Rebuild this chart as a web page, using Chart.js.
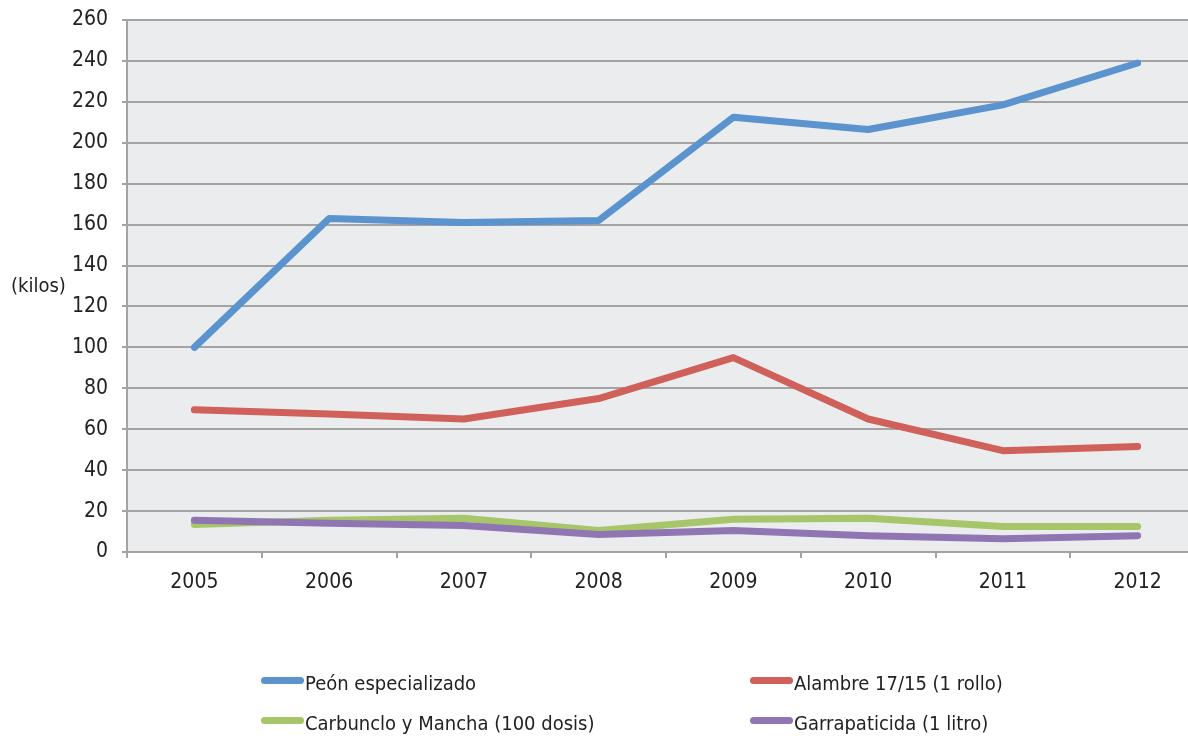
<!DOCTYPE html>
<html>
<head>
<meta charset="utf-8">
<script src="https://cdn.jsdelivr.net/npm/chart.js@4.4.1/dist/chart.umd.min.js"></script>
<style>
  html, body { margin: 0; padding: 0; background: #fff; overflow: hidden; width: 1188px; height: 739px; }
  #wrap { position: absolute; left: 0; top: 0; width: 1210px; height: 739px; }
  .txt { position: absolute; font-family: "Liberation Sans Narrow", "DejaVu Sans Condensed", sans-serif; font-size: 20px; color: #222; white-space: nowrap; }
  .key { position: absolute; height: 7px; width: 43px; border-radius: 4px; }
</style>
</head>
<body>
<div id="wrap">
  <canvas id="chart" width="1210" height="739"></canvas>
</div>
<div class="txt" style="left:11px; top:273px;">(kilos)</div>
<div id="legend"></div>

<script>
  // ── Data ──────────────────────────────────────────────────────────
  const years = ['2005', '2006', '2007', '2008', '2009', '2010', '2011', '2012'];
  const peon = [100, 163, 161, 162, 212.5, 206.5, 218.5, 239];
  const alambre = [69.5, 67.5, 65, 75, 95, 65, 49.5, 51.5];
  const carbunclo = [13.5, 15.5, 16.5, 10.5, 16, 16.5, 12.5, 12.5];
  const garrapaticida = [15.5, 14, 13, 8.5, 10.5, 8, 6.5, 8];

  const COLORS = {
    blue: '#5A93CD',
    red: '#D0605A',
    green: '#A7C66A',
    purple: '#8F76B2',
    grid: '#a3a3a3',
    plotBg: '#EBECEE',
    text: '#222222',
  };
  const FONT = '"Liberation Sans Narrow", "DejaVu Sans Condensed", sans-serif';

  const series = [
    { label: 'Peón especializado', data: peon, color: COLORS.blue, order: 3, x: 261, y: 680 },
    { label: 'Alambre 17/15 (1 rollo)', data: alambre, color: COLORS.red, order: 2, x: 750, y: 680 },
    { label: 'Carbunclo y Mancha (100 dosis)', data: carbunclo, color: COLORS.green, order: 1, x: 261, y: 720 },
    { label: 'Garrapaticida (1 litro)', data: garrapaticida, color: COLORS.purple, order: 0, x: 750, y: 720 },
  ];

  // plot background
  const plotBg = {
    id: 'plotBg',
    beforeDraw(chart) {
      const { ctx, chartArea: a } = chart;
      ctx.save();
      ctx.fillStyle = COLORS.plotBg;
      ctx.fillRect(a.left, a.top, a.right - a.left, a.bottom - a.top);
      ctx.restore();
    },
  };

  new Chart(document.getElementById('chart'), {
    type: 'line',
    data: {
      labels: years,
      datasets: series.map(s => ({
        label: s.label,
        data: s.data,
        borderColor: s.color,
        backgroundColor: s.color,
        borderWidth: 7,
        borderCapStyle: 'round',
        borderJoinStyle: 'round',
        pointRadius: 0,
        tension: 0,
        order: s.order,
      })),
    },
    options: {
      responsive: false,
      animation: false,
      layout: { padding: { top: 20, right: 5, left: 0, bottom: 0 } },
      plugins: {
        legend: { display: false },
        tooltip: { enabled: false },
      },
      scales: {
        x: {
          offset: true,
          afterFit: s => { s.height = 187; s.paddingLeft = 0; s.paddingRight = 0; },
          grid: { drawOnChartArea: false, drawTicks: true, tickLength: 6, color: COLORS.grid, lineWidth: 2, offset: true },
          border: { color: COLORS.grid, width: 2 },
          ticks: { color: COLORS.text, font: { family: FONT, size: 21 }, padding: 12 },
        },
        y: {
          min: 0,
          max: 260,
          afterFit: s => { s.width = 127; s.paddingTop = 0; s.paddingBottom = 0; },
          grid: { color: COLORS.grid, lineWidth: 2, tickLength: 5 },
          border: { color: COLORS.grid, width: 2 },
          ticks: { stepSize: 20, color: COLORS.text, font: { family: FONT, size: 21 }, padding: 14 },
        },
      },
    },
    plugins: [plotBg],
  });

  // ── Legend (two columns) ──────────────────────────────────────────
  const legend = document.getElementById('legend');
  series.forEach(s => {
    const key = document.createElement('div');
    key.className = 'key';
    key.style.left = s.x + 'px';
    key.style.top = (s.y - 3) + 'px';
    key.style.background = s.color;
    legend.appendChild(key);

    const t = document.createElement('div');
    t.className = 'txt';
    t.style.left = (s.x + 44) + 'px';
    t.style.top = (s.y - 9) + 'px';
    t.textContent = s.label;
    legend.appendChild(t);
  });
</script>
</body>
</html>
